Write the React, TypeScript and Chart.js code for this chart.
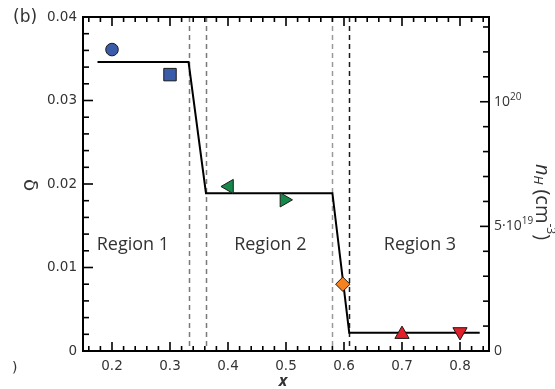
import React, { useEffect, useRef } from 'react';
import { Chart, registerables } from 'chart.js';

Chart.register(...registerables);

// ---- data ----
const stepX = [0.175, 0.332, 0.362, 0.58, 0.609, 0.834];
const stepDelta = [0.0346, 0.0346, 0.0189, 0.0189, 0.0022, 0.0022];

const circleX = [0.2];
const circleDelta = [0.0361];
const squareX = [0.3];
const squareDelta = [0.0331];
const greenLeftX = [0.402];
const greenLeftDelta = [0.0197];
const greenRightX = [0.497];
const greenRightDelta = [0.0181];
const diamondX = [0.598];
const diamondDelta = [0.008];
const redUpX = [0.7];
const redUpDelta = [0.002];
const redDownX = [0.8];
const redDownDelta = [0.0023];

const boundaryX = [0.332, 0.362, 0.58, 0.609];

const xTicks = [0.2, 0.3, 0.4, 0.5, 0.6, 0.7, 0.8];
const deltaTicks = [0, 0.01, 0.02, 0.03, 0.04];
const nHTicks = [0, 5e19, 1e20];
const nHTickBase = ['0', '5·10', '10'];
const nHTickExp = ['', '19', '20'];

const regionLabels = ['Region 1', 'Region 2', 'Region 3'];
const regionX = [0.236, 0.473, 0.731];
const regionDelta = [0.0127, 0.0127, 0.0127];

// ---- styles ----
const boundaryColors = ['#7a7a7a', '#7a7a7a', '#9a9a9a', '#1a1a1a'];
const TEXT = '#333333';
const TICK_FONT = 'DejaVu Sans';
const LABEL_FONT = '"Open Sans", sans-serif';

type Part = { t: string; font: string; dy?: number };

function richWidth(ctx: CanvasRenderingContext2D, parts: Part[]) {
  let w = 0;
  for (const p of parts) {
    ctx.font = p.font;
    w += ctx.measureText(p.t).width;
  }
  return w;
}

function drawRich(ctx: CanvasRenderingContext2D, parts: Part[], x: number, y: number) {
  let cx = x;
  for (const p of parts) {
    ctx.font = p.font;
    ctx.fillText(p.t, cx, y + (p.dy || 0));
    cx += ctx.measureText(p.t).width;
  }
}

const decorPlugin = {
  id: 'decor',
  beforeDatasetsDraw(chart: any) {
    const { ctx, chartArea, scales } = chart;
    ctx.save();
    ctx.lineWidth = 1.5;
    ctx.setLineDash([5, 4]);
    boundaryX.forEach((v, i) => {
      const px = Math.round(scales.x.getPixelForValue(v)) + 0.5;
      ctx.strokeStyle = boundaryColors[i];
      ctx.beginPath();
      ctx.moveTo(px, chartArea.top);
      ctx.lineTo(px, chartArea.bottom);
      ctx.stroke();
    });
    ctx.restore();
  },
  afterDatasetsDraw(chart: any) {
    const { ctx, chartArea, scales } = chart;
    const { left, right, top, bottom } = chartArea;
    const xs = scales.x;
    const ys = scales.y;
    const y2 = scales.y2;
    ctx.save();
    ctx.strokeStyle = '#000';
    ctx.lineWidth = 1.6;
    ctx.setLineDash([]);
    // x ticks (bottom & top, inward)
    for (let i = 8; i <= 42; i++) {
      const v = i * 0.02;
      const major = i % 5 === 0;
      const px = xs.getPixelForValue(v);
      const len = major ? 9 : 5;
      ctx.beginPath();
      ctx.moveTo(px, bottom);
      ctx.lineTo(px, bottom - len);
      ctx.moveTo(px, top);
      ctx.lineTo(px, top + len);
      ctx.stroke();
    }
    // left ticks
    for (let i = 1; i < 20; i++) {
      const v = i * 0.002;
      const major = i % 5 === 0;
      const py = ys.getPixelForValue(v);
      ctx.beginPath();
      ctx.moveTo(left, py);
      ctx.lineTo(left + (major ? 10 : 6), py);
      ctx.stroke();
    }
    // right ticks
    for (let i = 1; i <= 13; i++) {
      const v = i * 1e19;
      const major = i % 5 === 0;
      const py = y2.getPixelForValue(v);
      ctx.beginPath();
      ctx.moveTo(right, py);
      ctx.lineTo(right - (major ? 9 : 6), py);
      ctx.stroke();
    }
    // frame
    ctx.lineWidth = 2;
    ctx.strokeRect(left, top, right - left, bottom - top);

    ctx.fillStyle = TEXT;
    // right tick labels
    ctx.textAlign = 'left';
    ctx.textBaseline = 'middle';
    nHTicks.forEach((v, i) => {
      const py = y2.getPixelForValue(v);
      drawRich(
        ctx,
        [
          { t: nHTickBase[i], font: `14px ${LABEL_FONT}` },
          { t: nHTickExp[i], font: `10px ${LABEL_FONT}`, dy: -5 },
        ],
        right + 5,
        py
      );
    });

    // region labels
    ctx.textAlign = 'center';
    ctx.font = `18px ${LABEL_FONT}`;
    regionLabels.forEach((lab, i) => {
      ctx.fillText(lab, xs.getPixelForValue(regionX[i]), ys.getPixelForValue(regionDelta[i]));
    });

    // panel tag
    ctx.textAlign = 'left';
    ctx.font = `17px ${TICK_FONT}`;
    ctx.fillText('(b)', 13, 18);
    ctx.font = `14px ${TICK_FONT}`;
    ctx.fillText(')', 12, 368);

    // x title
    ctx.textAlign = 'center';
    ctx.font = `italic bold 16px ${LABEL_FONT}`;
    ctx.fillText('x', 283, 381);

    // delta title
    ctx.save();
    ctx.translate(29, (top + bottom) / 2 + 1);
    ctx.rotate(Math.PI / 2);
    ctx.font = `20px ${TICK_FONT}`;
    ctx.fillText('δ', 0, 0);
    ctx.restore();

    // nH title
    ctx.save();
    ctx.translate(542, 202);
    ctx.rotate(Math.PI / 2);
    const parts: Part[] = [
      { t: 'n', font: `italic 20px ${LABEL_FONT}` },
      { t: 'H', font: `italic 13px ${LABEL_FONT}`, dy: 4 },
      { t: ' (cm', font: `20px ${LABEL_FONT}` },
      { t: '-3', font: `12px ${LABEL_FONT}`, dy: -8 },
      { t: ')', font: `20px ${LABEL_FONT}` },
    ];
    const w = richWidth(ctx, parts);
    ctx.textAlign = 'left';
    ctx.textBaseline = 'middle';
    drawRich(ctx, parts, -w / 2, 0);
    ctx.restore();

    ctx.restore();
  },
};

function pts(xs: number[], ys: number[]) {
  return xs.map((x, i) => ({ x, y: ys[i] }));
}

function marker(label: string, xs: number[], ys: number[], style: string, color: string, radius: number, rotation = 0) {
  return {
    type: 'scatter' as const,
    label,
    data: pts(xs, ys),
    pointStyle: style,
    pointRadius: radius,
    pointHoverRadius: radius,
    rotation,
    pointRotation: rotation,
    backgroundColor: color,
    borderColor: '#1a1a1a',
    borderWidth: 1,
    showLine: false,
  };
}

export default function App() {
  const ref = useRef<HTMLCanvasElement>(null);
  useEffect(() => {
    const canvas = ref.current!;
    const chart = new Chart(canvas, {
      type: 'scatter',
      data: {
        datasets: [
          marker('circle', circleX, circleDelta, 'circle', '#3a5ca8', 6.3),
          marker('square', squareX, squareDelta, 'rect', '#3a5ca8', 8.8),
          marker('left', greenLeftX, greenLeftDelta, 'triangle', '#16894a', 8.2, -90),
          marker('right', greenRightX, greenRightDelta, 'triangle', '#16894a', 8.2, 90),
          marker('diamond', diamondX, diamondDelta, 'rectRot', '#f5821f', 7.2),
          marker('up', redUpX, redUpDelta, 'triangle', '#e3202a', 8.2, 0),
          marker('down', redDownX, redDownDelta, 'triangle', '#e3202a', 8.2, 180),
          {
            type: 'line' as const,
            label: 'step',
            data: pts(stepX, stepDelta),
            borderColor: '#000',
            borderWidth: 2,
            pointRadius: 0,
            fill: false,
            tension: 0,
            showLine: true,
          } as any,
        ],
      },
      options: {
        responsive: false,
        animation: false,
        layout: { padding: { top: 17, left: 0, right: 0, bottom: 0 } },
        plugins: { legend: { display: false }, tooltip: { enabled: false } },
        scales: {
          x: {
            type: 'linear',
            position: 'bottom',
            min: 0.15,
            max: 0.85,
            afterBuildTicks: (s: any) => {
              s.ticks = xTicks.map((v) => ({ value: v }));
            },
            afterFit: (s: any) => {
              s.height = 38;
            },
            grid: { display: false, drawTicks: false },
            border: { display: false },
            ticks: {
              padding: 7,
              color: TEXT,
              autoSkip: false,
              maxRotation: 0,
              font: { family: TICK_FONT, size: 13.5 },
              callback: (v: any) => String(v),
            },
          },
          y: {
            type: 'linear',
            position: 'left',
            min: 0,
            max: 0.04,
            afterBuildTicks: (s: any) => {
              s.ticks = deltaTicks.map((v) => ({ value: v }));
            },
            afterFit: (s: any) => {
              s.width = 83;
            },
            grid: { display: false, drawTicks: false },
            border: { display: false },
            ticks: {
              padding: 6,
              color: TEXT,
              autoSkip: false,
              font: { family: TICK_FONT, size: 13.5 },
              callback: (v: any) => String(v),
            },
          },
          y2: {
            type: 'linear',
            position: 'right',
            min: 0,
            max: 1.34e20,
            afterFit: (s: any) => {
              s.width = 66;
            },
            grid: { display: false, drawTicks: false },
            border: { display: false },
            ticks: { display: false },
          },
        },
      } as any,
      plugins: [decorPlugin],
    });
    return () => chart.destroy();
  }, []);
  return (
    <div style={{ position: 'absolute', left: 0, top: 0, width: 555, height: 389, background: '#fff' }}>
      <canvas ref={ref} width={555} height={389} style={{ width: 555, height: 389, display: 'block' }} />
    </div>
  );
}
